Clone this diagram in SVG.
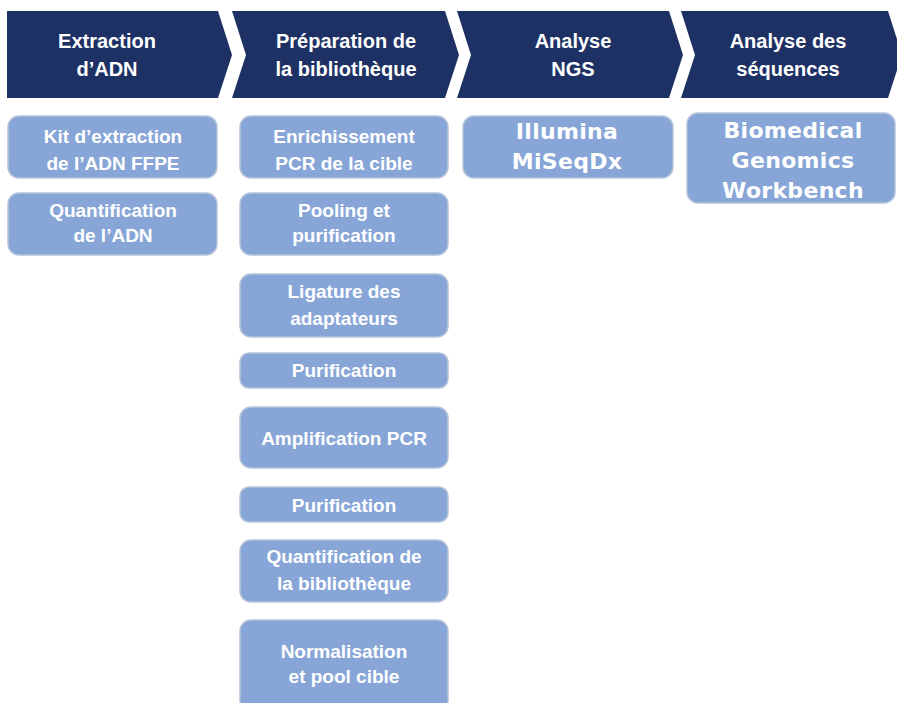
<svg xmlns="http://www.w3.org/2000/svg" width="897" height="703" viewBox="0 0 897 703">
<defs>
<style>
.hdr{fill:#1e3164;}
.ht{fill:#ffffff;font-family:"Liberation Sans",Arial,sans-serif;font-weight:bold;font-size:20px;text-anchor:middle;}
.box{fill:#87a6d7;stroke:#b5c3da;stroke-width:1.5;}
.bt{fill:#ffffff;font-family:"Liberation Sans",Arial,sans-serif;font-weight:bold;font-size:19px;text-anchor:middle;}
.bt2{fill:#ffffff;font-family:"DejaVu Sans",Verdana,sans-serif;font-weight:bold;font-size:22px;text-anchor:middle;letter-spacing:0.3px;}
</style>
</defs>
<rect width="897" height="703" fill="#ffffff"/>
<g id="header-extraction">
<polygon class="hdr" points="7,11 218,11 232,55 218,98 7,98"/>
<text class="ht" x="107" y="48">Extraction</text>
<text class="ht" x="107" y="76">d’ADN</text>
</g>
<g id="header-preparation">
<polygon class="hdr" points="232,11 445,11 459,55 445,98 232,98 246,55"/>
<text class="ht" x="346" y="48">Préparation de</text>
<text class="ht" x="346" y="76">la bibliothèque</text>
</g>
<g id="header-ngs">
<polygon class="hdr" points="457,11 669,11 683,55 669,98 457,98 471,55"/>
<text class="ht" x="573" y="48">Analyse</text>
<text class="ht" x="573" y="76">NGS</text>
</g>
<g id="header-sequences">
<polygon class="hdr" points="681,11 888,11 902,55 888,98 681,98 695,55"/>
<text class="ht" x="788" y="48">Analyse des</text>
<text class="ht" x="788" y="76">séquences</text>
</g>
<g id="kit-extraction">
<rect class="box" x="8" y="116" width="209" height="62" rx="11"/>
<text class="bt" x="113" y="143">Kit d’extraction</text>
<text class="bt" x="113" y="170">de l’ADN FFPE</text>
</g>
<g id="quantification-adn">
<rect class="box" x="8" y="193" width="209" height="62" rx="11"/>
<text class="bt" x="113" y="217">Quantification</text>
<text class="bt" x="113" y="242">de l’ADN</text>
</g>
<g id="enrichissement">
<rect class="box" x="240" y="116" width="208" height="62" rx="11"/>
<text class="bt" x="344" y="143">Enrichissement</text>
<text class="bt" x="344" y="170">PCR de la cible</text>
</g>
<g id="pooling">
<rect class="box" x="240" y="193" width="208" height="62" rx="11"/>
<text class="bt" x="344" y="217">Pooling et</text>
<text class="bt" x="344" y="242">purification</text>
</g>
<g id="ligature">
<rect class="box" x="240" y="274" width="208" height="63" rx="11"/>
<text class="bt" x="344" y="298">Ligature des</text>
<text class="bt" x="344" y="325">adaptateurs</text>
</g>
<g id="purification-1">
<rect class="box" x="240" y="353" width="208" height="35" rx="9"/>
<text class="bt" x="344" y="377">Purification</text>
</g>
<g id="amplification">
<rect class="box" x="240" y="407" width="208" height="61" rx="11"/>
<text class="bt" x="344" y="445">Amplification PCR</text>
</g>
<g id="purification-2">
<rect class="box" x="240" y="487" width="208" height="35" rx="9"/>
<text class="bt" x="344" y="512">Purification</text>
</g>
<g id="quantification-bibliotheque">
<rect class="box" x="240" y="540" width="208" height="62" rx="11"/>
<text class="bt" x="344" y="563">Quantification de</text>
<text class="bt" x="344" y="590">la bibliothèque</text>
</g>
<g id="normalisation">
<rect class="box" x="240" y="620" width="208" height="95" rx="11"/>
<text class="bt" x="344" y="658">Normalisation</text>
<text class="bt" x="344" y="683">et pool cible</text>
</g>
<g id="illumina">
<rect class="box" x="463" y="116" width="210" height="62" rx="11"/>
<text class="bt2" x="567" y="139">Illumina</text>
<text class="bt2" x="567" y="169">MiSeqDx</text>
</g>
<g id="biomedical">
<rect class="box" x="687" y="113" width="208" height="90" rx="11"/>
<text class="bt2" x="793" y="138">Biomedical</text>
<text class="bt2" x="793" y="168">Genomics</text>
<text class="bt2" x="793" y="198">Workbench</text>
</g>
<g id="connectors"></g>
</svg>
